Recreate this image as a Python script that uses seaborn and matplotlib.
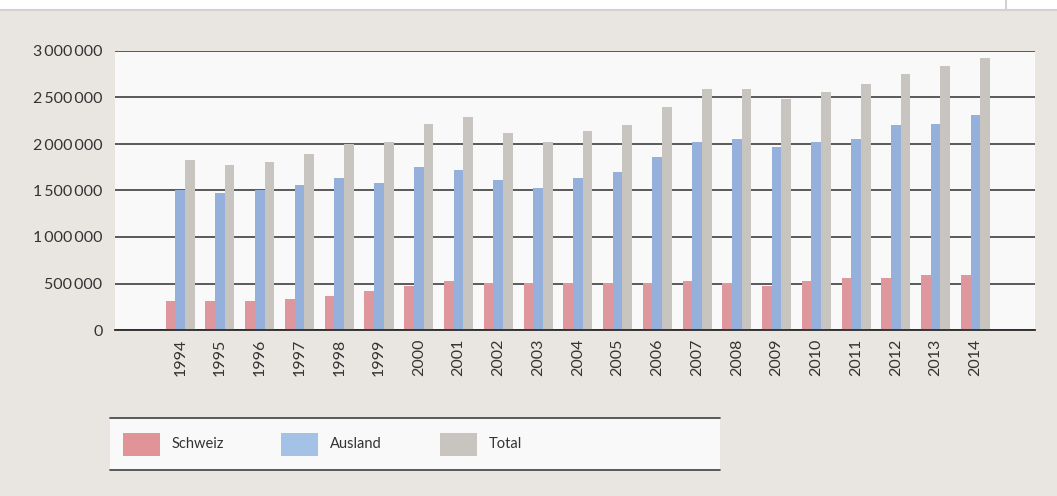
import pandas as pd
import matplotlib.pyplot as plt
import matplotlib.ticker as mticker
from matplotlib.patches import Rectangle
from matplotlib.lines import Line2D
import seaborn as sns

# Data
years = [str(y) for y in range(1994, 2015)]
schweiz = [313000, 313000, 313000, 334000, 366000, 420000, 474000, 528000, 507000, 507000,
           507000, 507000, 507000, 528000, 507000, 474000, 528000, 560000, 560000, 593000, 593000]
ausland = [1509000, 1477000, 1509000, 1563000, 1638000, 1584000, 1757000, 1725000, 1617000, 1531000,
           1638000, 1703000, 1865000, 2026000, 2059000, 1972000, 2026000, 2059000, 2199000, 2220000, 2307000]
total = [1832000, 1778000, 1811000, 1897000, 2005000, 2026000, 2220000, 2285000, 2113000, 2026000,
         2145000, 2199000, 2393000, 2587000, 2587000, 2479000, 2554000, 2641000, 2748000, 2835000, 2921000]
series = ['Schweiz', 'Ausland', 'Total']
colors = {'Schweiz': '#DE979D', 'Ausland': '#95B1DB', 'Total': '#C8C4C0'}
legend_colors = {'Schweiz': '#E09498', 'Ausland': '#A3C2E6', 'Total': '#C8C5C1'}

df = pd.DataFrame({'Jahr': years, 'Schweiz': schweiz, 'Ausland': ausland, 'Total': total})
df_long = df.melt(id_vars='Jahr', var_name='Serie', value_name='Wert')

sns.set_theme(style='white')
plt.rcParams['font.family'] = ['Lato', 'DejaVu Sans']
txt_color = '#333333'

fig = plt.figure(figsize=(10.57, 4.96), dpi=100, facecolor='#E9E6E1')
ax = fig.add_axes([115 / 1057, 166 / 496, 920 / 1057, 279 / 496])
ax.set_facecolor('#F9F9F9')

sns.barplot(data=df_long, x='Jahr', y='Wert', hue='Serie', order=years, hue_order=series,
            palette=colors, width=0.73, saturation=1, ax=ax, legend=False, linewidth=0)

ax.set_ylim(0, 3000000)
ax.set_xlim(-1.64, 21.5)
ax.yaxis.set_major_locator(mticker.MultipleLocator(500000))
ax.yaxis.set_major_formatter(mticker.FuncFormatter(lambda v, p: f"{int(v):,}".replace(',', '\u2009')))
ax.grid(axis='y', color='#3E3E3E', linewidth=1.2)
ax.set_axisbelow(True)
for s in ['left', 'right', 'top']:
    ax.spines[s].set_visible(False)
ax.spines['bottom'].set_color('#2A2A2A')
ax.spines['bottom'].set_linewidth(1.3)
ax.set_xlabel('')
ax.set_ylabel('')
ax.tick_params(axis='y', length=0, pad=9, labelsize=11.5, labelcolor=txt_color)
ax.tick_params(axis='x', length=0, pad=6, labelsize=11.5, labelcolor=txt_color, rotation=90)

# white strip at the top
fig.add_artist(Rectangle((0, 1 - 9 / 496), 1, 9 / 496, transform=fig.transFigure,
                         facecolor='white', edgecolor='none'))
fig.add_artist(Line2D([0, 1], [1 - 9.5 / 496] * 2, transform=fig.transFigure, color='#D2D2D2', lw=1.5))
fig.add_artist(Line2D([1006 / 1057] * 2, [1 - 9 / 496, 1], transform=fig.transFigure, color='#D2D2D2', lw=1.5))

# legend box
lx0, lx1 = 110 / 1057, 720 / 1057
ly0, ly1 = 1 - 470 / 496, 1 - 418 / 496
fig.add_artist(Rectangle((lx0, ly0), lx1 - lx0, ly1 - ly0, transform=fig.transFigure,
                         facecolor='#F9F9F9', edgecolor='none'))
for yy in (ly0, ly1):
    fig.add_artist(Line2D([lx0, lx1], [yy, yy], transform=fig.transFigure, color='#3E3E3E', lw=1.2))
for i, name in enumerate(series):
    px = (123 + i * 158.3) / 1057
    fig.add_artist(Rectangle((px, 1 - 456 / 496), 37 / 1057, 23 / 496, transform=fig.transFigure,
                             facecolor=legend_colors[name], edgecolor='none'))
    fig.text(px + 49 / 1057, 1 - 444.5 / 496, name, fontsize=10.5, color=txt_color, va='center', ha='left')

fig.savefig('out.png', dpi=100, facecolor=fig.get_facecolor())
